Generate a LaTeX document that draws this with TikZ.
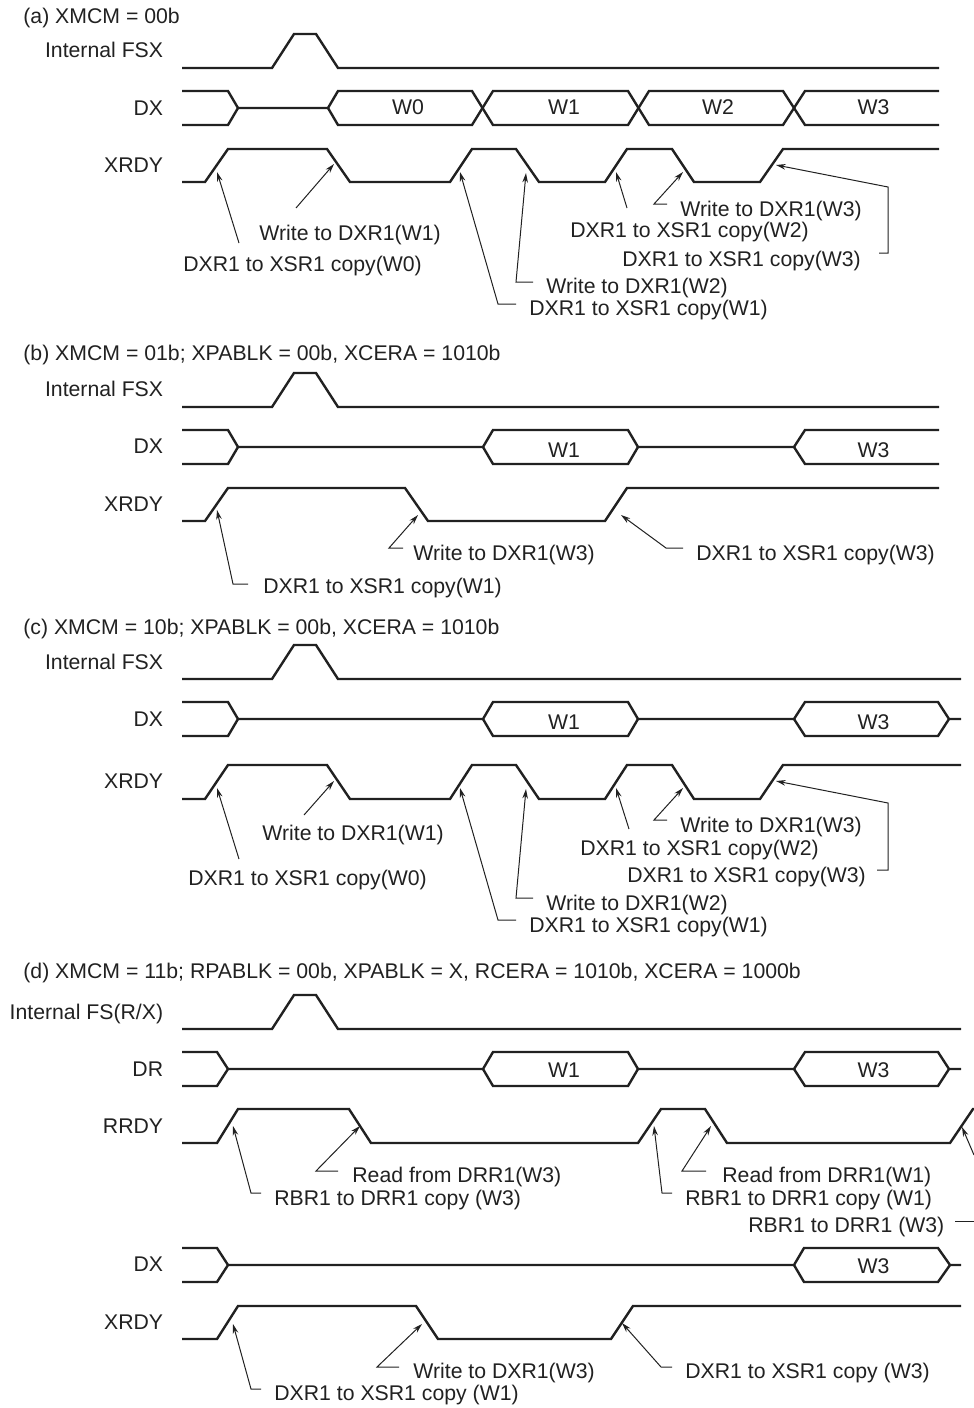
\documentclass[tikz,border=0pt]{standalone}
\usepackage{fontspec}
\setmainfont{Liberation Sans}
\usetikzlibrary{arrows.meta}
\definecolor{inkdark}{gray}{0.13}

\begin{document}
\begin{tikzpicture}[x=0.5pt, y=-0.5pt, >={Stealth[length=4.8pt,width=2.8pt]},
    every node/.style={text=inkdark, inner sep=0pt, font=\fontsize{10.62}{12}\selectfont},
    wave/.style={line width=1.2pt, inkdark, line join=miter},
    pointer/.style={->, line width=0.5pt, inkdark},
    heading/.style={anchor=base west},
    signame/.style={anchor=base east},
    word/.style={anchor=base},
    note/.style={anchor=base west}]
    \useasboundingbox (0,0) rectangle (974,1408);

    % (a) all words
    \node[heading] (heada) at (23,24) {(a) XMCM = 00b};
    \node[signame] (fsxa) at (163.5,57) {Internal FSX};
    \node[signame] (dxa) at (163.5,115) {DX};
    \node[signame] (xrdya) at (163.5,172) {XRDY};
    \draw[wave] (182,68) -- (272,68) -- (294,34) -- (316,34) -- (338,68) -- (939,68);
    \draw[wave] (182,91) -- (228,91) -- (238,108) -- (228,125) -- (182,125);
    \draw[wave] (238,108) -- (328,108) -- (338,91) -- (472,91) -- (493,125) -- (628,125) -- (649,91) -- (783,91) -- (805,125) -- (939,125);
    \draw[wave] (328,108) -- (338,125) -- (472,125) -- (493,91) -- (628,91) -- (649,125) -- (783,125) -- (805,91) -- (939,91);
    \node[word] (w0a) at (408,114) {W0};
    \node[word] (w1a) at (564,114) {W1};
    \node[word] (w2a) at (718,114) {W2};
    \node[word] (w3a) at (873.5,114) {W3};
    \draw[wave] (182,182) -- (205,182) -- (228,149) -- (327,149) -- (350,182) -- (450,182) -- (472,149) -- (516,149) -- (539,182) -- (605,182) -- (627,149) -- (672,149) -- (694,182) -- (760,182) -- (783,149) -- (939,149);

    \node[note] (wra1) at (259,240) {Write to DXR1(W1)};
    \node[note] (cpa0) at (183,271) {DXR1 to XSR1 copy(W0)};
    \node[note] (wra3) at (680,216) {Write to DXR1(W3)};
    \node[note] (cpa2) at (570,237) {DXR1 to XSR1 copy(W2)};
    \node[note] (cpa3) at (622,266) {DXR1 to XSR1 copy(W3)};
    \node[note] (wra2) at (546,293) {Write to DXR1(W2)};
    \node[note] (cpa1) at (529,315) {DXR1 to XSR1 copy(W1)};
    \coordinate (cpa0tail) at (239,243); \coordinate (cpa0tip) at (217,172);
    \coordinate (wra1tail) at (296,208); \coordinate (wra1tip) at (334,164);
    \coordinate (cpa1tail) at (516,304); \coordinate (cpa1tip) at (460,172);
    \coordinate (wra2tail) at (533,282); \coordinate (wra2tip) at (526,173);
    \coordinate (cpa2tail) at (627,208); \coordinate (cpa2tip) at (616,172);
    \coordinate (wra3tail) at (667,204); \coordinate (wra3tip) at (683,172);
    \coordinate (cpa3tail) at (879,253); \coordinate (cpa3tip) at (776,165);
    \draw[pointer] (cpa0tail) -- (cpa0tip);
    \draw[pointer] (wra1tail) -- (wra1tip);
    \draw[pointer] (cpa1tail) -- (498,304) -- (cpa1tip);
    \draw[pointer] (wra2tail) -- (516,282) -- (wra2tip);
    \draw[pointer] (cpa2tail) -- (cpa2tip);
    \draw[pointer] (wra3tail) -- (654,204) -- (wra3tip);
    \draw[pointer] (cpa3tail) -- (888,253) -- (888,187) -- (cpa3tip);

    % (b) words 1 and 3
    \node[heading] (headb) at (23,360) {(b) XMCM = 01b; XPABLK = 00b, XCERA = 1010b};
    \node[signame] (fsxb) at (163.5,396) {Internal FSX};
    \node[signame] (dxb) at (163.5,453) {DX};
    \node[signame] (xrdyb) at (163.5,511) {XRDY};
    \draw[wave] (182,407) -- (272,407) -- (294,373) -- (316,373) -- (338,407) -- (939,407);
    \draw[wave] (182,430) -- (228,430) -- (238,447) -- (228,464) -- (182,464);
    \draw[wave] (238,447) -- (483,447) -- (493,430) -- (628,430) -- (638,447) -- (794,447) -- (805,430) -- (939,430);
    \draw[wave] (483,447) -- (493,464) -- (628,464) -- (638,447);
    \draw[wave] (794,447) -- (805,464) -- (939,464);
    \node[word] (w1b) at (564,457) {W1};
    \node[word] (w3b) at (873.5,457) {W3};
    \draw[wave] (182,521) -- (205,521) -- (228,488) -- (405,488) -- (428,521) -- (605,521) -- (627,488) -- (939,488);

    \node[note] (wrb3) at (413,560) {Write to DXR1(W3)};
    \node[note] (cpb3) at (696,560) {DXR1 to XSR1 copy(W3)};
    \node[note] (cpb1) at (263,593) {DXR1 to XSR1 copy(W1)};
    \coordinate (cpb1tail) at (248,584); \coordinate (cpb1tip) at (217,510);
    \coordinate (wrb3tail) at (403,548); \coordinate (wrb3tip) at (418,515);
    \coordinate (cpb3tail) at (683,548); \coordinate (cpb3tip) at (621,515);
    \draw[pointer] (cpb1tail) -- (233,584) -- (cpb1tip);
    \draw[pointer] (wrb3tail) -- (389,548) -- (wrb3tip);
    \draw[pointer] (cpb3tail) -- (666,548) -- (cpb3tip);

    % (c) XRDY as in (a), DX as in (b)
    \node[heading] (headc) at (23,634) {(c) XMCM = 10b; XPABLK = 00b, XCERA = 1010b};
    \node[signame] (fsxc) at (163.5,669) {Internal FSX};
    \node[signame] (dxc) at (163.5,726) {DX};
    \node[signame] (xrdyc) at (163.5,788) {XRDY};
    \draw[wave] (182,679) -- (272,679) -- (294,645) -- (316,645) -- (338,679) -- (961,679);
    \draw[wave] (182,702) -- (228,702) -- (238,719) -- (228,736) -- (182,736);
    \draw[wave] (238,719) -- (483,719) -- (493,702) -- (628,702) -- (638,719) -- (794,719) -- (805,702) -- (938,702) -- (949,719) -- (961,719);
    \draw[wave] (483,719) -- (493,736) -- (628,736) -- (638,719);
    \draw[wave] (794,719) -- (805,736) -- (938,736) -- (949,719);
    \node[word] (w1c) at (564,729) {W1};
    \node[word] (w3c) at (873.5,729) {W3};
    \draw[wave] (182,799) -- (205,799) -- (228,765) -- (327,765) -- (350,799) -- (450,799) -- (472,765) -- (516,765) -- (539,799) -- (605,799) -- (627,765) -- (672,765) -- (694,799) -- (760,799) -- (783,765) -- (961,765);

    \node[note] (wrc1) at (262,840) {Write to DXR1(W1)};
    \node[note] (cpc0) at (188,885) {DXR1 to XSR1 copy(W0)};
    \node[note] (wrc3) at (680,832) {Write to DXR1(W3)};
    \node[note] (cpc2) at (580,855) {DXR1 to XSR1 copy(W2)};
    \node[note] (cpc3) at (627,882) {DXR1 to XSR1 copy(W3)};
    \node[note] (wrc2) at (546,910) {Write to DXR1(W2)};
    \node[note] (cpc1) at (529,932) {DXR1 to XSR1 copy(W1)};
    \coordinate (cpc0tail) at (239,859); \coordinate (cpc0tip) at (217,788);
    \coordinate (wrc1tail) at (304,815); \coordinate (wrc1tip) at (334,781);
    \coordinate (cpc1tail) at (516,920); \coordinate (cpc1tip) at (460,788);
    \coordinate (wrc2tail) at (533,898); \coordinate (wrc2tip) at (526,789);
    \coordinate (cpc2tail) at (629,829); \coordinate (cpc2tip) at (616,788);
    \coordinate (wrc3tail) at (667,820); \coordinate (wrc3tip) at (683,788);
    \coordinate (cpc3tail) at (877,870); \coordinate (cpc3tip) at (776,781);
    \draw[pointer] (cpc0tail) -- (cpc0tip);
    \draw[pointer] (wrc1tail) -- (wrc1tip);
    \draw[pointer] (cpc1tail) -- (498,920) -- (cpc1tip);
    \draw[pointer] (wrc2tail) -- (516,898) -- (wrc2tip);
    \draw[pointer] (cpc2tail) -- (cpc2tip);
    \draw[pointer] (wrc3tail) -- (654,820) -- (wrc3tip);
    \draw[pointer] (cpc3tail) -- (888,870) -- (888,803) -- (cpc3tip);

    % (d) receive and transmit
    \node[heading] (headd) at (23,978) {(d) XMCM = 11b; RPABLK = 00b, XPABLK = X, RCERA = 1010b, XCERA = 1000b};
    \node[signame] (fsd) at (163.5,1019) {Internal FS(R/X)};
    \node[signame] (drd) at (163.5,1076) {DR};
    \node[signame] (rrdyd) at (163.5,1133) {RRDY};
    \node[signame] (dxd) at (163.5,1271) {DX};
    \node[signame] (xrdyd) at (163.5,1329) {XRDY};
    \draw[wave] (182,1029) -- (272,1029) -- (294,995) -- (316,995) -- (338,1029) -- (961,1029);
    \draw[wave] (182,1052) -- (217,1052) -- (228,1069) -- (217,1086) -- (182,1086);
    \draw[wave] (228,1069) -- (483,1069) -- (493,1052) -- (628,1052) -- (638,1069) -- (794,1069) -- (805,1052) -- (938,1052) -- (949,1069) -- (961,1069);
    \draw[wave] (483,1069) -- (493,1086) -- (628,1086) -- (638,1069);
    \draw[wave] (794,1069) -- (805,1086) -- (938,1086) -- (949,1069);
    \node[word] (w1d) at (564,1077) {W1};
    \node[word] (w3d) at (873.5,1077) {W3};
    \draw[wave] (182,1143) -- (217,1143) -- (238,1109) -- (349,1109) -- (371,1143) -- (638,1143) -- (661,1109) -- (705,1109) -- (727,1143) -- (950,1143) -- (973,1109) -- (974,1109);
    \draw[wave] (182,1248) -- (217,1248) -- (228,1265) -- (217,1282) -- (182,1282);
    \draw[wave] (228,1265) -- (794,1265) -- (804,1248) -- (938,1248) -- (950,1265) -- (961,1265);
    \draw[wave] (794,1265) -- (804,1282) -- (938,1282) -- (950,1265);
    \node[word] (w3e) at (873.5,1273) {W3};
    \draw[wave] (182,1339) -- (217,1339) -- (238,1306) -- (416,1306) -- (438,1339) -- (611,1339) -- (633,1306) -- (961,1306);

    \node[note] (rdd3) at (352,1182) {Read from DRR1(W3)};
    \node[note] (cpd3) at (274,1205) {RBR1 to DRR1 copy (W3)};
    \node[note] (rdd1) at (722,1182) {Read from DRR1(W1)};
    \node[note] (cpd1) at (685,1205) {RBR1 to DRR1 copy (W1)};
    \node[note] (cpd4) at (748,1232) {RBR1 to DRR1 (W3)};
    \node[note] (wre3) at (413,1378) {Write to DXR1(W3)};
    \node[note] (cpe1) at (274,1400) {DXR1 to XSR1 copy (W1)};
    \node[note] (cpe3) at (685,1378) {DXR1 to XSR1 copy (W3)};
    \coordinate (cpd3tail) at (261,1193); \coordinate (cpd3tip) at (233,1126);
    \coordinate (rdd3tail) at (338,1171); \coordinate (rdd3tip) at (360,1126);
    \coordinate (cpd1tail) at (672,1193); \coordinate (cpd1tip) at (654,1126);
    \coordinate (rdd1tail) at (706,1171); \coordinate (rdd1tip) at (711,1126);
    \coordinate (cpd4tail) at (955,1221); \coordinate (cpd4end) at (974,1221);
    \coordinate (cpd4top) at (974,1155); \coordinate (cpd4tip) at (962,1127);
    \coordinate (cpe1tail) at (261,1389); \coordinate (cpe1tip) at (233,1324);
    \coordinate (wre3tail) at (399,1367); \coordinate (wre3tip) at (422,1324);
    \coordinate (cpe3tail) at (672,1367); \coordinate (cpe3tip) at (622,1323);
    \draw[pointer] (cpd3tail) -- (251,1193) -- (cpd3tip);
    \draw[pointer] (rdd3tail) -- (316,1171) -- (rdd3tip);
    \draw[pointer] (cpd1tail) -- (662,1193) -- (cpd1tip);
    \draw[pointer] (rdd1tail) -- (682,1171) -- (rdd1tip);
    \draw[line width=0.5pt, inkdark] (cpd4tail) -- (cpd4end);
    \draw[pointer] (cpd4top) -- (cpd4tip);
    \draw[pointer] (cpe1tail) -- (251,1389) -- (cpe1tip);
    \draw[pointer] (wre3tail) -- (377,1367) -- (wre3tip);
    \draw[pointer] (cpe3tail) -- (661,1367) -- (cpe3tip);
\end{tikzpicture}
\end{document}
